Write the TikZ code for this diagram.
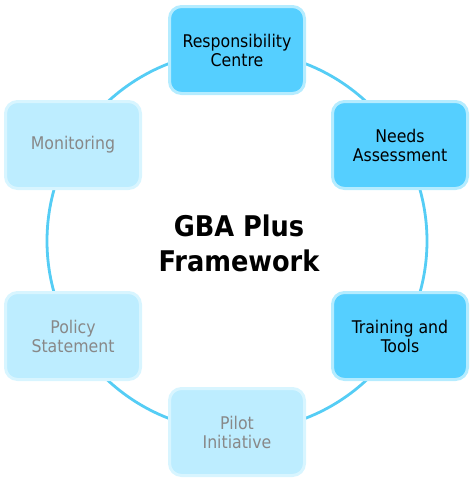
\documentclass[tikz,border=0pt]{standalone}
\usepackage{fontspec}
\setmainfont{DejaVu Sans Condensed}
\definecolor{ring}{HTML}{55CDF5}
\definecolor{brightfill}{HTML}{55CFFF}
\definecolor{brightedge}{HTML}{B5ECFF}
\definecolor{palefill}{HTML}{BDEDFF}
\definecolor{paleedge}{HTML}{D8F5FF}
\definecolor{paletext}{HTML}{888888}
\tikzset{
  stagebox/.style={rounded corners=12pt, minimum width=135pt, minimum height=87pt,
    line width=3pt, align=center, font=\fontsize{17.5}{19}\selectfont, inner sep=0pt},
  brightbox/.style={stagebox, fill=brightfill, draw=brightedge, text=black},
  palebox/.style={stagebox, fill=palefill, draw=paleedge, text=paletext},
}
\begin{document}
\begin{tikzpicture}[x=1pt,y=-1pt]
\useasboundingbox (0,0) rectangle (475,482);
\coordinate (c) at (237,241);
\draw[ring, line width=2.8pt] (c) circle[radius=190];
\node[brightbox] (resp) at (237,50) {Responsibility\\Centre};
\node[brightbox] (needs) at (400,145) {Needs\\Assessment};
\node[brightbox] (train) at (400,336) {Training and\\Tools};
\node[palebox] (pilot) at (237,432) {Pilot\\Initiative};
\node[palebox] (policy) at (73,336) {Policy\\Statement};
\node[palebox] (mon) at (73,145) {Monitoring};
\node[align=center, font=\bfseries\fontsize{28.5}{35}\selectfont] (title) at (239,243) {GBA Plus\\Framework};
\end{tikzpicture}
\end{document}
